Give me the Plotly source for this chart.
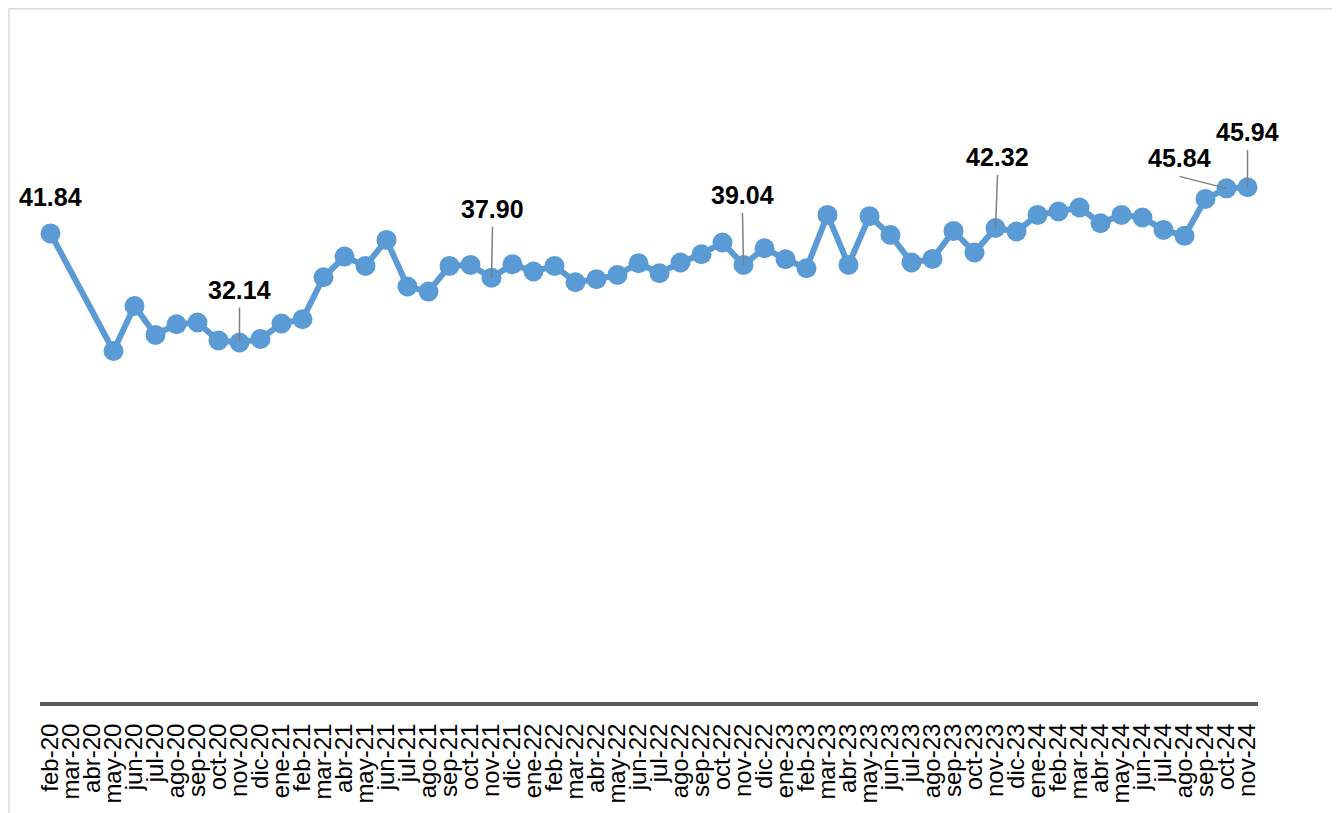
import plotly.graph_objects as go

months = ["feb-20", "mar-20", "abr-20", "may-20", "jun-20", "jul-20", "ago-20", "sep-20",
          "oct-20", "nov-20", "dic-20", "ene-21", "feb-21", "mar-21", "abr-21", "may-21",
          "jun-21", "jul-21", "ago-21", "sep-21", "oct-21", "nov-21", "dic-21", "ene-22",
          "feb-22", "mar-22", "abr-22", "may-22", "jun-22", "jul-22", "ago-22", "sep-22",
          "oct-22", "nov-22", "dic-22", "ene-23", "feb-23", "mar-23", "abr-23", "may-23",
          "jun-23", "jul-23", "ago-23", "sep-23", "oct-23", "nov-23", "dic-23", "ene-24",
          "feb-24", "mar-24", "abr-24", "may-24", "jun-24", "jul-24", "ago-24", "sep-24",
          "oct-24", "nov-24"]

# mar-20 and abr-20 have no data (gap bridged by the line)
values = [41.84, None, None, 31.39, 35.39, 32.82, 33.77, 33.92,
          32.32, 32.14, 32.46, 33.83, 34.21, 37.94, 39.78, 38.95,
          41.26, 37.12, 36.67, 38.95, 39.04, 37.90, 39.10, 38.45,
          38.95, 37.50, 37.77, 38.15, 39.19, 38.30, 39.25, 39.99,
          41.03, 39.04, 40.52, 39.54, 38.74, 43.48, 39.04, 43.37,
          41.70, 39.25, 39.57, 42.06, 40.14, 42.32, 42.01, 43.48,
          43.78, 44.14, 42.74, 43.48, 43.25, 42.15, 41.62, 44.90,
          45.84, 45.94]

# labelled points: (month, offset x, offset y of the label's bottom edge, leader line?)
labelled = [
    ("feb-20", 0, -18, False),
    ("nov-20", 0, -35, True),
    ("nov-21", 1, -51, True),
    ("nov-22", -1, -52, True),
    ("nov-23", 2, -53, True),
    ("oct-24", -47, -12, True),
    ("nov-24", 0, -37, True),
]

BLUE = "#5B9BD5"

fig = go.Figure(go.Scatter(
    x=months,
    y=values,
    mode="lines+markers",
    connectgaps=True,
    line=dict(color=BLUE, width=6),
    marker=dict(color=BLUE, size=20),
    hoverinfo="x+y",
))

for m, ax, ay, leader in labelled:
    v = values[months.index(m)]
    fig.add_annotation(
        x=m, y=v, text=f"{v:.2f}",
        showarrow=True, arrowhead=0, arrowwidth=1.5,
        arrowcolor="#7F7F7F" if leader else "rgba(0,0,0,0)",
        ax=ax, ay=ay, xanchor="center", yanchor="bottom", borderpad=3,
        font=dict(family="Arial, Liberation Sans", size=25, color="black", weight="bold"),
    )

# light frame around the whole chart
fig.add_shape(type="rect", xref="paper", yref="paper",
              x0=-0.0255, x1=1.0649, y0=-0.2, y1=1.03,
              line=dict(color="#D9D9D9", width=1.5), layer="below")

fig.update_xaxes(
    type="category",
    range=[-0.5, len(months) - 0.5],
    tickmode="array", tickvals=months, ticktext=months,
    showline=True, linecolor="#595959", linewidth=4,
    showgrid=False, zeroline=False,
    tickangle=-90,
    ticks="", ticklabelstandoff=8,
    automargin=False,
    tickfont=dict(family="Arial, Liberation Sans", size=24, color="black"),
)
fig.update_yaxes(range=[0.2, 60], visible=False, showgrid=False, zeroline=False,
                 automargin=False)

# page body has an 8px margin, so the figure is 8px smaller than the window
fig.update_layout(
    width=1332, height=805,
    margin=dict(l=32, r=82, t=21, b=111),
    plot_bgcolor="white", paper_bgcolor="white",
    showlegend=False,
)

fig.write_html("out.html")
